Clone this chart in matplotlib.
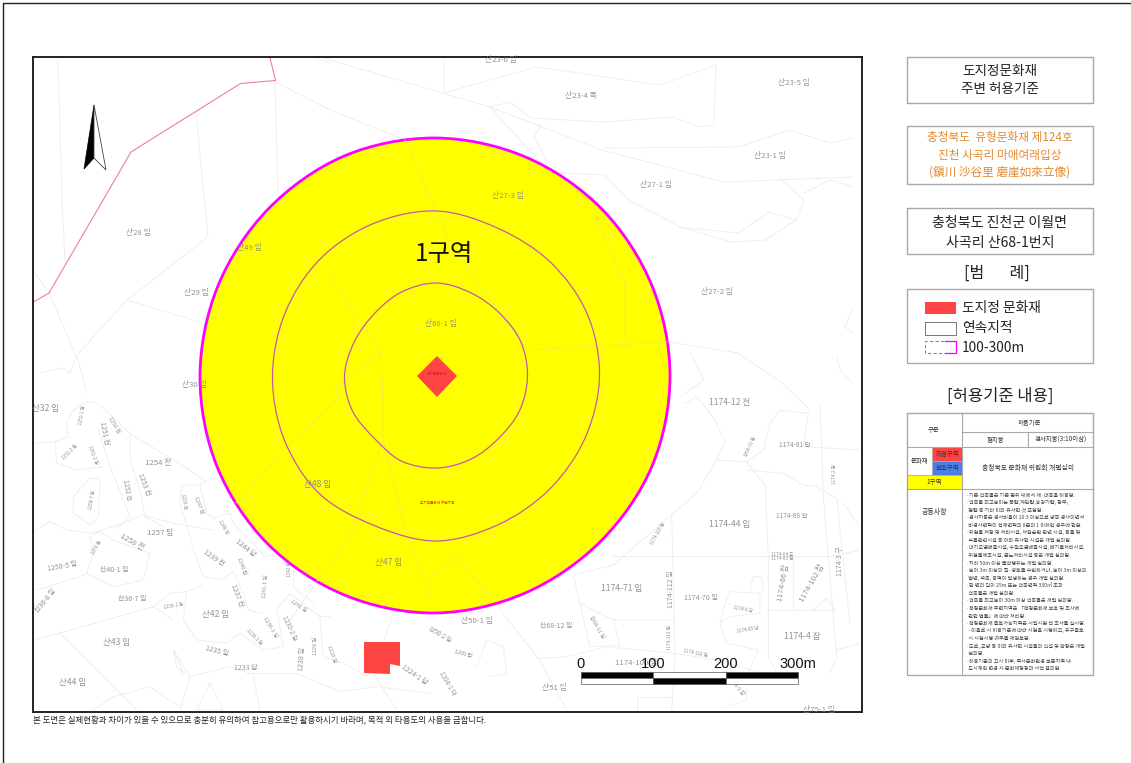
import numpy as np
import matplotlib
matplotlib.use("Agg")
import matplotlib.pyplot as plt
from matplotlib.path import Path
from matplotlib.patches import PathPatch, Polygon, Rectangle

plt.rcParams['font.family'] = ['Noto Sans CJK KR', 'DejaVu Sans']

W, H = 1131, 763
FRAME = (33, 57, 862, 712)

# ---- zone outlines: radius (m-like pixels) read every 22.5 degrees
RING_CENTER = (436.5, 376)
OUTER_CENTER = (435, 376)
OUTER_R = [235, 235, 236, 237, 238, 238, 236, 235, 235, 236, 237, 237, 237, 235, 234, 235]
MIDDLE_R = [163, 163, 161, 160, 165, 165, 165, 164, 164, 165, 166, 162, 165, 161, 160, 161]
INNER_R = [91, 91, 89, 90, 93, 91, 88, 89, 92, 91, 88, 92, 92, 90, 88, 90]

HERITAGE_DIAMOND = [(437, 356), (457, 376), (437, 397), (417, 376)]
HERITAGE_BLOCK = [(364, 642), (400, 642), (400, 666), (390, 664), (390, 674), (364, 673)]
RED_BOUNDARY = [(268, 50), (275.6, 80.5), (240.6, 83.5), (131, 152), (49, 293), (30, 304)]
NORTH_DARK = [(94, 105), (84, 169), (94, 158)]
NORTH_LIGHT = [(94, 105), (106, 170), (94, 158)]

# ---- parcel lines in plain map pixels
TOP_LINES = [
    [(276, 40), (330, 60), (490, 107), (602, 150), (724, 182), (853, 177)],
    [(444, 58), (444, 93), (490, 80), (537, 67), (660, 85), (716, 65), (714, 125), (699, 127),
     (673, 117), (602, 122), (531, 118), (510, 102), (490, 107)],
    [(490, 107), (541, 163)],
    [(541, 125), (534, 137), (548, 163)],
    [(605, 148), (738, 147), (789, 130), (830, 143), (853, 138)],
    [(561, 173), (605, 175), (629, 200), (680, 227), (731, 242), (765, 240), (796, 220), (804, 200), (779, 178)],
    [(680, 227), (738, 233), (769, 212), (796, 220)],
    [(804, 193), (830, 180), (853, 187)],
    [(670, 342), (738, 353), (782, 383), (810, 410)],
    [(690, 353), (704, 380), (680, 397)],
    [(853, 307), (845, 327), (853, 333)],
    [(837, 357), (840, 370), (853, 383)],
    [(58, 60), (62, 200), (65, 260)],
    [(196, 113), (208, 237), (127, 300), (77, 355), (70, 373), (63, 368), (40, 373)],
    [(127, 300), (203, 323)],
    [(35, 273), (49, 293), (78, 360), (87, 393)],
    [(275, 82), (278, 197)],
    [(275, 82), (330, 110), (405, 140)],
    [(317, 58), (330, 63)],
]
YELLOW_LINES = [
    [(330, 110), (405, 140), (453, 250), (527, 350), (670, 342)],
    [(625, 340), (625, 283), (595, 217)],
    [(330, 277), (381, 353), (383, 397)],
    [(381, 353), (330, 393)],
    [(236, 503), (287, 447), (347, 390)],
    [(383, 390), (383, 440), (403, 520), (430, 597)],
    [(383, 440), (350, 537), (313, 587)],
    [(430, 577), (457, 557), (490, 597)],
]
# parcel lines (3x crop units)
LOWER_LEFT = [
    [(10,160),(75,155),(115,140),(110,100),(130,60),(170,35),(205,40),(235,70),(305,135),(390,185),(480,240),(490,250)],
    [(300,135),(300,210),(330,300),(345,380),(400,410)],
    [(205,120),(240,230),(300,380),(260,415)],
    [(75,155),(80,220),(140,240),(215,230)],
    [(180,265),(210,265),(205,380),(180,405),(130,370),(130,320),(180,265)],
    [(0,430),(60,395),(110,420),(180,430),(250,410),(340,375),(430,400),(550,420)],
    [(490,250),(530,275),(510,285),(455,285),(450,340),(480,440)],
    [(510,285),(530,370),(550,385),(600,370),(610,400),(660,450),(700,495)],
    [(480,450),(520,560),(570,570),(610,545),(640,610),(655,660),(700,670)],
    [(180,440),(210,425),(250,450),(360,490),(340,570),(250,590),(170,550),(190,490),(180,440)],
    [(20,600),(150,560),(170,550)],
    [(15,750),(370,650),(430,690)],
    [(370,650),(420,610),(470,605),(515,585)],
    [(470,605),(460,690),(500,750),(590,760)],
    [(90,730),(320,960)],
    [(430,780),(480,860),(600,830),(660,850),(800,850),(930,905),(1040,890),(1200,910)],
    [(590,760),(630,730),(700,780),(760,770),(740,660),(780,610),(870,680),(900,680)],
    [(700,500),(760,490),(790,530),(790,590),(850,640)],
    [(870,680),(880,800),(940,820),(1010,860)],
    [(850,590),(780,690)],
    [(480,860),(450,960)],
    [(670,860),(690,960)],
    [(540,880),(500,960),(580,960),(540,880)],
    [(190,960),(250,920),(360,890),(400,920),(450,950)],
    [(1090,670),(1030,850),(1100,960)],
    [(430,780),(460,850),(440,830),(430,780)],
]
LOWER_RIGHT = [
    [(765,40),(800,20),(855,90),(885,155),(860,210),(950,215),(1000,280)],
    [(860,210),(800,310),(725,375),(550,525),(430,555),(450,640),(550,690),(730,690)],
    [(725,375),(735,800),(725,960)],
    [(550,500),(1200,500),(1290,480)],
    [(1005,280),(1015,500),(1015,800),(1040,850)],
    [(950,215),(1000,180),(1020,100),(1050,60),(1135,70),(1120,170),(1290,180)],
    [(950,240),(1060,250),(1120,285),(1160,290),(1220,325),(1260,700)],
    [(1170,40),(1180,320),(1220,800),(1200,850)],
    [(1015,660),(1215,660)],
    [(1088,500),(1088,660)],
    [(550,690),(570,765),(480,770),(450,640)],
    [(210,660),(325,805),(410,960)],
    [(325,805),(410,800),(530,770),(735,790)],
    [(735,790),(860,810),(1000,850)],
    [(870,700),(885,640),(900,605),(990,610),(990,670),(900,680),(870,700)],
    [(870,700),(890,760),(985,780),(950,860),(950,930),(890,950)],
    [(1220,780),(1290,760)],
    [(1240,340),(1290,410)],
    [(140,830),(170,750),(220,770),(230,850),(180,860)],
    [(960,600),(970,560),(995,560),(1000,610)],
    [(1150,660),(1190,625),(1215,660)],
    [(620,960),(620,920),(725,920)],
]

# ---- map labels: text, x, y, size, rotation
PARCEL_LABELS = [
    ("산23-6 임", 501, 60, 5, 0), ("산23-4 목", 581, 96, 5, 0), ("산23-5 임", 794, 83, 5, 0),
    ("산23-1 임", 770, 156, 5, 0), ("산27-1 임", 656, 185, 5, 0), ("산27-3 임", 508, 196, 5, 0),
    ("산27-2 임", 717, 292, 5, 0), ("산28 임", 138, 233, 5, 0), ("산49 임", 249, 248, 5, 0),
    ("산29 임", 196, 293, 5, 0), ("산30 임", 194, 385, 5, 0), ("산68-1 임", 441, 324, 5, 0),
    ("산48 임", 318, 484, 5.5, 0), ("산47 임", 389, 562, 5.5, 0), ("산32 임", 46, 409, 5.5, 0),
    ("1174-12 전", 730, 403, 5.5, 0), ("1174-81 답", 795, 445, 4.2, 0), ("1174-44 임", 730, 524, 5.5, 0),
    ("1174-68 잡", 792, 516, 4.2, 0), ("1174-71 임", 622, 589, 5.5, 0), ("1174-70 임", 701, 598, 4.5, 0),
    ("1174-4 잡", 802, 636, 5.5, 0), ("1174-112 임", 671, 589, 4.5, 90), ("1174-66 잡", 783, 583, 5, 80),
    ("1174-102 잡", 812, 583, 5, 60), ("1174-3 구", 840, 561, 4.5, 90), ("산50-1 임", 477, 621, 5, 0),
    ("산68-12 임", 556, 626, 4.5, 0), ("산51 임", 554, 688, 5, 0), ("1174-100 임", 636, 663, 5, 0),
    ("산75-1 임", 819, 710, 5, 0), ("1174-9 잡", 736, 686, 3.5, -50), ("1174-113 임", 670, 638, 3, 90),
    ("1174-110 임", 695, 653, 3, -12), ("1174-85 답", 748, 630, 3, 10), ("1174-6 답", 743, 609, 3, -10),
    ("1174-105 임", 658, 534, 3, 60), ("산68-11 임", 597, 627, 3.5, -60), ("산68-31 임", 750, 447, 3, 65),
    ("1174-2 임", 835, 474, 3, 90), ("1174-64 도", 782, 555, 3, 0), ("1174-65 임", 782, 559, 3, 0),
    ("1254 전", 158, 463, 5, 0), ("1257 답", 160, 533, 5, 0), ("1258 전", 132, 542, 5, -30),
    ("1258-5 임", 62, 566, 4.5, 10), ("산40-1 임", 114, 570, 4.5, 0), ("산36-7 임", 132, 599, 4.5, 0),
    ("산36-8 임", 46, 601, 4.5, 50), ("산42 임", 216, 615, 5.5, 0), ("산43 임", 117, 643, 5.5, 0),
    ("산44 임", 73, 682, 5.5, 0), ("1235 임", 217, 651, 4.5, -15), ("1233 답", 246, 668, 4.5, 0),
    ("1239 전", 214, 558, 4.5, -35), ("1237 전", 237, 595, 4.5, -70), ("1240 답", 242, 566, 3.5, -70),
    ("1244 답", 245, 548, 4.5, -40), ("1241-1 임", 266, 586, 3.5, 85), ("1241 임", 298, 606, 3.5, -35),
    ("1253 전", 144, 484, 4.5, -70), ("1252 전", 127, 490, 4, -80), ("1251 전", 104, 433, 4.5, -80),
    ("1250 전", 114, 425, 3.5, -60), ("1251-1 임", 82, 415, 3, 80), ("1230-2 임", 289, 628, 4, -65),
    ("1236-1 임", 270, 627, 3.5, -60), ("1230 임", 302, 659, 4.5, 85), ("1229 임", 316, 646, 3.5, 90),
    ("1228 임", 332, 654, 3.5, -70), ("1224-1 답", 414, 675, 4.5, -35), ("1204-1 대", 448, 683, 4, -60),
    ("1209 답", 463, 654, 3.5, -15), ("산50-2 임", 440, 635, 4, -30), ("1247 전", 199, 505, 3.5, -70),
    ("1256 전", 184, 501, 3, -80), ("1258-7 임", 92, 500, 3, 80), ("1259 임", 97, 548, 3, 60),
    ("1236-1 임", 173, 606, 3, 10), ("1236-2 임", 254, 637, 3, -45), ("1242 임", 290, 569, 3, 90),
    ("1261-2 임", 93, 455, 3, -70), ("1251-2 임", 70, 452, 3, 45), ("1246 전", 223, 527, 3, -60),
]
ZONE_LABEL = "1구역"
TINY_RED = "도지정문화재"
TINY_RED_2 = "도지정문화재 주변지역"
FOOTNOTE = "본 도면은 실제현황과 차이가 있을 수 있으므로 충분히 유의하여 참고용으로만 활용하시기 바라며, 목적 외 타용도의 사용을 금합니다."

# ---- scale bar
SCALE_METRES = [0, 100, 200, 300]
SCALE_TICKS = ["0", "100", "200", "300m"]

# ---- side panel text
TITLE_LINES = ["도지정문화재", "주변 허용기준"]
HERITAGE_LINES = ["충청북도  유형문화재 제124호", "진천 사곡리 마애여래입상", "(鎭川 沙谷里 磨崖如來立像)"]
ADDRESS_LINES = ["충청북도 진천군 이월면", "사곡리 산68-1번지"]
LEGEND_TITLE = "[범       례]"
LEGEND_ITEMS = ["도지정 문화재", "연속지적", "100-300m"]
RULE_TITLE = "[허용기준 내용]"
COMMON_RULES = [
    "·기존 건축물은 기존 범위 내에서 재·대축을 허용함.",
    "·건축물 최고높이는 목탑,계단탑,승강기탑, 장부,",
    "  첨탑 등 기타 이와 유사한 것 포함함.",
    "·경사지붕은 경사비율이 10:3 이상으로 양쪽 경사이면서",
    "  비경사면적이 전체면적의 8분의 1 이하인 경우에 한함.",
    "·위험물 저장 및 처리시설, 자원순환 관련 시설, 동물 및",
    "  식물관련시설 등 이와 유사한 시설은 개별 심의함.",
    "·대기오염배출시설, 수질오염배출시설, 폐기물처리시설,",
    "  위험물제조시설, 분뇨처리시설 등은 개별 심의함.",
    "·지하 50m 이상 굴착행위는 개별 심의함.",
    "·높이 3m 이상의 절·성토를 수반하거나, 높이 3m 이상의",
    "  법면, 석축, 옹벽이 발생하는 경우 개별 심의함.",
    "·한 변의 길이 25m 또는 건축면적 330㎡ 초과",
    "  건축물은 개별 심의함.",
    "·건축물 최고높이 30m 이상 건축물은 개별 심의함.",
    "·책정문화재 주변지역은 「책정문화재 보호 및 조사에",
    "  관한 법률」에 따라 처리함.",
    "·책정문화재 출토가능지역은 시발시험 전 조사를 실시함.",
    "  - 이울로 시 허용기준에 따라 시험을 시행하고, 유구출토",
    "  시 시험시행 여부를 재검토함.",
    "·도로, 교량 등 이와 유사한 시설물의 신설 및 확장은 개별",
    "  심의함.",
    "·허용기준의 고시 이후, 역사문화환경 보존지역 내",
    "  도시계획 변경 시 문화재청장과 사전 협의함.",
]

RED = "#ff4444"
GREY = "#a8a8a8"
PARCEL = "#ececec"
MAGENTA = "#ff00ff"
RING = "#c45aa0"


def polar_outline(center, radii):
    ang = np.deg2rad(np.arange(len(radii)) * 360 / len(radii))
    r = np.asarray(radii, float)
    pts = np.c_[center[0] + r * np.cos(ang), center[1] - r * np.sin(ang)]
    n = len(pts)
    verts, codes = [pts[0]], [Path.MOVETO]
    for i in range(n):
        p0, p1, p2, p3 = pts[i - 1], pts[i], pts[(i + 1) % n], pts[(i + 2) % n]
        verts += [p1 + (p2 - p0) / 6, p2 - (p3 - p1) / 6, p2]
        codes += [Path.CURVE4] * 3
    return Path(verts, codes)


def from_crop(lines, ox, oy):
    return [[(ox + x / 3, oy + y / 3) for x, y in ln] for ln in lines]


fig = plt.figure(figsize=(W / 100, H / 100), dpi=100, facecolor="white")

# full-figure layer for the side panel and footnote
page = fig.add_axes([0, 0, 1, 1])
page.set_xlim(0, W)
page.set_ylim(H, 0)
page.axis("off")
page.plot([3, 3, 1131], [763, 3, 3], color="#222222", lw=1.0)

# map layer, clipped to the frame
x0, y0, x1, y1 = FRAME
ax = fig.add_axes([x0 / W, 1 - y1 / H, (x1 - x0) / W, (y1 - y0) / H])
ax.set_xlim(x0, x1)
ax.set_ylim(y1, y0)
ax.set_xticks([])
ax.set_yticks([])
for s in ax.spines.values():
    s.set_linewidth(1.4)
    s.set_color("#222222")

for ln in TOP_LINES + from_crop(LOWER_LEFT, 30, 390) + from_crop(LOWER_RIGHT, 430, 390):
    xs, ys = zip(*ln)
    ax.plot(xs, ys, color=PARCEL, lw=0.6, zorder=1)

ax.plot(*zip(*RED_BOUNDARY), color="#ee8090", lw=0.8, zorder=2)

outer = PathPatch(polar_outline(OUTER_CENTER, OUTER_R), fc="#ffff00", ec=MAGENTA, lw=2, zorder=3)
ax.add_patch(outer)
for ln in YELLOW_LINES:
    xs, ys = zip(*ln)
    line, = ax.plot(xs, ys, color="#eeee50", lw=0.6, zorder=3.5)
    line.set_clip_path(outer)
ax.add_patch(PathPatch(polar_outline(RING_CENTER, MIDDLE_R), fc="none", ec=RING, lw=0.9, zorder=4))
ax.add_patch(PathPatch(polar_outline(RING_CENTER, INNER_R), fc="none", ec=RING, lw=0.9, zorder=4))

ax.add_patch(Polygon(HERITAGE_DIAMOND, fc=RED, ec="none", zorder=5))
ax.add_patch(Polygon(HERITAGE_BLOCK, fc=RED, ec="none", zorder=5))

ax.add_patch(Polygon(NORTH_DARK, fc="black", ec="black", lw=0.5, zorder=5))
ax.add_patch(Polygon(NORTH_LIGHT, fc="white", ec="#444444", lw=0.6, zorder=5))

for t, x, y, fs, rot in PARCEL_LABELS:
    ax.text(x, y, t, fontsize=fs * 1.12, rotation=rot, color="#808080", alpha=0.85, ha="center",
            va="center", zorder=6, rotation_mode="anchor")

ax.text(444, 254, ZONE_LABEL, fontsize=17.5, color="#111111", ha="center", va="center", zorder=7)
ax.text(437, 374, TINY_RED, fontsize=2.6, color="#cc2020", ha="center", va="center", zorder=7)
ax.text(437, 503, TINY_RED_2, fontsize=2.6, color="#e03020", ha="center", va="center", zorder=7)

# scale bar, driven by the metre values
sx0, sx1 = 581, 798
to_x = lambda m: sx0 + (sx1 - sx0) * m / SCALE_METRES[-1]
for i in range(len(SCALE_METRES) - 1):
    a, b = to_x(SCALE_METRES[i]), to_x(SCALE_METRES[i + 1])
    top, bottom = ("black", "white") if i % 2 == 0 else ("white", "black")
    ax.add_patch(Rectangle((a, 672), b - a, 6, fc=top, ec="#555555", lw=0.5, zorder=8))
    ax.add_patch(Rectangle((a, 678), b - a, 5.5, fc=bottom, ec="#555555", lw=0.5, zorder=8))
for m, t in zip(SCALE_METRES, SCALE_TICKS):
    ax.text(to_x(m), 664, t, fontsize=10.5, family="Liberation Sans", color="#111111",
            ha="center", va="center", zorder=9)

page.text(33, 720, FOOTNOTE, fontsize=6.1, color="#222222", ha="left", va="center")


def box(x0, y0, x1, y1, ec=GREY, lw=1.0, fc="none", z=2):
    page.add_patch(Rectangle((x0, y0), x1 - x0, y1 - y0, fc=fc, ec=ec, lw=lw, zorder=z))


PX0, PX1 = 907, 1093
CX = (PX0 + PX1) / 2
box(PX0, 57, PX1, 103)
for t, y in zip(TITLE_LINES, [71, 89]):
    page.text(CX, y, t, fontsize=9.8, color="#222222", ha="center", va="center")
box(PX0, 126, PX1, 184)
for t, y in zip(HERITAGE_LINES, [138, 156, 172]):
    page.text(CX, y, t, fontsize=8.4, color="#e08a30", ha="center", va="center")
box(PX0, 208, PX1, 254)
for t, y in zip(ADDRESS_LINES, [223, 243]):
    page.text(CX, y, t, fontsize=10.1, color="#222222", ha="center", va="center")
page.text(997, 273, LEGEND_TITLE, fontsize=11.5, color="#222222", ha="center", va="center")

box(PX0, 289, PX1, 363)
page.add_patch(Rectangle((925, 302), 31, 12, fc=RED, ec="none"))
page.add_patch(Rectangle((925, 322), 31, 13, fc="white", ec="#777777", lw=0.7))
page.plot([955, 925, 925, 955], [341, 341, 353, 353], color=MAGENTA, lw=0.8, ls=(0, (3, 2)), alpha=0.8)
page.plot([945, 956, 956, 945], [341, 341, 353, 353], color=MAGENTA, lw=0.9)
for t, y in zip(LEGEND_ITEMS, [308, 328, 348]):
    page.text(962, y, t, fontsize=9.9, color="#222222", ha="left", va="center")

page.text(CX, 396, RULE_TITLE, fontsize=11.9, color="#222222", ha="center", va="center")

# rules table
box(PX0, 413, PX1, 675, z=3)
page.add_patch(Rectangle((932, 447), 30, 14, fc=RED, ec=GREY, lw=0.6))
page.add_patch(Rectangle((932, 461), 30, 14, fc="#4a7fe8", ec=GREY, lw=0.6))
page.add_patch(Rectangle((907, 475), 55, 14, fc="#ffff00", ec=GREY, lw=0.6))
for seg in [((962, 962), (413, 675)), ((962, 1093), (432, 432)), ((907, 1093), (447, 447)),
            ((907, 1093), (489, 489)), ((1028, 1028), (432, 447))]:
    page.plot(*seg, color=GREY, lw=0.8, zorder=3)
CELLS = [("구분", 934, 430, 4.6), ("허용기준", 1029, 423, 4.6), ("평지붕", 995, 440, 4.6),
         ("경사지붕(3:10이상)", 1061, 440, 4.6), ("문화재", 920, 461, 4.6), ("지정구역", 947, 454, 4.6),
         ("보호구역", 947, 468, 4.6), ("1구역", 934, 482, 4.6),
         ("충청북도 문화재 위원회 개별심의", 1028, 468, 4.9), ("공동사항", 934, 512, 5)]
for t, x, y, fs in CELLS:
    page.text(x, y, t, fontsize=fs, color="#333333", ha="center", va="center", zorder=4)
for i, t in enumerate(COMMON_RULES):
    page.text(966, 495 + i * 7.55, t, fontsize=3.7, color="#444444", ha="left", va="center", zorder=4)

fig.savefig("out.png", dpi=100, facecolor="white")
